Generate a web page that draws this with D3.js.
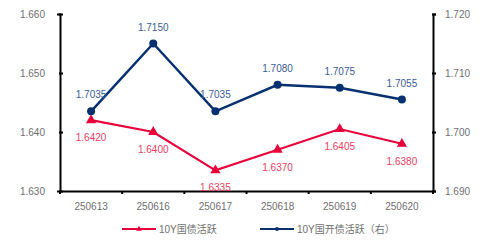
<!DOCTYPE html>
<html>
<head>
<meta charset="utf-8">
<script src="https://cdn.jsdelivr.net/npm/d3@7"></script>
<style>
  body { margin: 0; background: #fff; }
  text { font-family: "Liberation Sans", "Noto Sans CJK SC", sans-serif; }
</style>
</head>
<body>
<svg id="chart" width="486" height="244"></svg>
<script>
  // dados
  var dates = ["250613", "250616", "250617", "250618", "250619", "250620"];
  var gzValues = [1.6420, 1.6400, 1.6335, 1.6370, 1.6405, 1.6380];
  var gkValues = [1.7035, 1.7150, 1.7035, 1.7080, 1.7075, 1.7055];
  var leftTicks = [1.630, 1.640, 1.650, 1.660];
  var rightTicks = [1.690, 1.700, 1.710, 1.720];
  var seriesNames = ["10Y国债活跃", "10Y国开债活跃（右）"];

  (function () {
    'use strict';

    var red = "#e8003a", redText = "#ea3d62";
    var blue = "#06306f", blueText = "#3b5d96";
    var grey = "#6f6f6f";

    var svg = d3.select("#chart");
    var mLeft = 60, mRight = 433, mTop = 14, mBottom = 191;

    var x = d3.scaleBand().domain(dates).range([mLeft, mRight]);
    var yL = d3.scaleLinear().domain([1.630, 1.660]).range([mBottom, mTop]);
    var yR = d3.scaleLinear().domain([1.690, 1.720]).range([mBottom, mTop]);

    // eixo esquerdo
    var gl = svg.append("g").attr("transform", "translate(" + mLeft + ",0)")
      .call(d3.axisLeft(yL).tickValues(leftTicks).tickFormat(d3.format(".3f")).tickSize(3).tickPadding(12));
    // eixo direito
    var gr = svg.append("g").attr("transform", "translate(" + mRight + ",0)")
      .call(d3.axisRight(yR).tickValues(rightTicks).tickFormat(d3.format(".3f")).tickSize(3).tickPadding(9));
    // eixo x com ticks nas fronteiras das categorias
    var gx = svg.append("g").attr("transform", "translate(0," + mBottom + ")")
      .call(d3.axisBottom(x).tickSize(0).tickPadding(12));
    gx.selectAll(".bound").data(dates.concat([null])).enter().append("line")
      .attr("class", "bound")
      .attr("x1", function (d, i) { return mLeft + i * x.step(); })
      .attr("x2", function (d, i) { return mLeft + i * x.step(); })
      .attr("y1", 0).attr("y2", 3)
      .attr("stroke", "#000").attr("stroke-width", 2);

    [gl, gr, gx].forEach(function (g) {
      g.select(".domain").attr("stroke", "#000").attr("stroke-width", 2);
      g.selectAll(".tick line").attr("stroke", "#000").attr("stroke-width", 2);
      g.selectAll(".tick text").attr("fill", grey).style("font-size", "10px");
    });
    gl.selectAll(".tick line").attr("x2", 3).attr("x1", -1);
    gr.selectAll(".tick line").attr("x1", -1).attr("x2", 3);

    function cx(d, i) { return x(dates[i]) + x.bandwidth() / 2; }

    // serie azul (eixo direito)
    svg.append("path").datum(gkValues)
      .attr("fill", "none").attr("stroke", blue).attr("stroke-width", 2.5)
      .attr("d", d3.line().x(cx).y(function (d) { return yR(d); }));
    svg.selectAll(".gk").data(gkValues).enter().append("circle")
      .attr("cx", cx).attr("cy", function (d) { return yR(d); })
      .attr("r", 4).attr("fill", blue);
    svg.selectAll(".gkl").data(gkValues).enter().append("text")
      .attr("x", cx).attr("y", function (d) { return yR(d) - 13; })
      .attr("text-anchor", "middle").attr("fill", blueText).style("font-size", "10px")
      .text(function (d) { return d3.format(".4f")(d); });

    // serie vermelha (eixo esquerdo)
    svg.append("path").datum(gzValues)
      .attr("fill", "none").attr("stroke", red).attr("stroke-width", 2.2)
      .attr("d", d3.line().x(cx).y(function (d) { return yL(d); }));
    var tri = d3.symbol().type(d3.symbolTriangle).size(45);
    svg.selectAll(".gz").data(gzValues).enter().append("path")
      .attr("d", tri)
      .attr("transform", function (d, i) { return "translate(" + cx(d, i) + "," + yL(d) + ")"; })
      .attr("fill", red);
    svg.selectAll(".gzl").data(gzValues).enter().append("text")
      .attr("x", cx).attr("y", function (d) { return yL(d) + 21; })
      .attr("text-anchor", "middle").attr("fill", redText).style("font-size", "10px")
      .text(function (d) { return d3.format(".4f")(d); });

    // legenda
    var legend = svg.append("g").attr("transform", "translate(0,229)");
    var l1 = legend.append("g").attr("transform", "translate(122,0)");
    l1.append("line").attr("x1", 0).attr("x2", 34).attr("stroke", red).attr("stroke-width", 2);
    l1.append("path").attr("d", d3.symbol().type(d3.symbolTriangle).size(14)).attr("transform", "translate(17,0)").attr("fill", red);
    l1.append("text").attr("x", 37).attr("y", 4).attr("fill", grey).style("font-size", "10px").text(seriesNames[0]);

    var l2 = legend.append("g").attr("transform", "translate(260,0)");
    l2.append("line").attr("x1", 0).attr("x2", 34).attr("stroke", blue).attr("stroke-width", 2);
    l2.append("circle").attr("cx", 17).attr("r", 2).attr("fill", blue);
    l2.append("text").attr("x", 37).attr("y", 4).attr("fill", grey).style("font-size", "10px").text(seriesNames[1]);
  }());
</script>
</body>
</html>
